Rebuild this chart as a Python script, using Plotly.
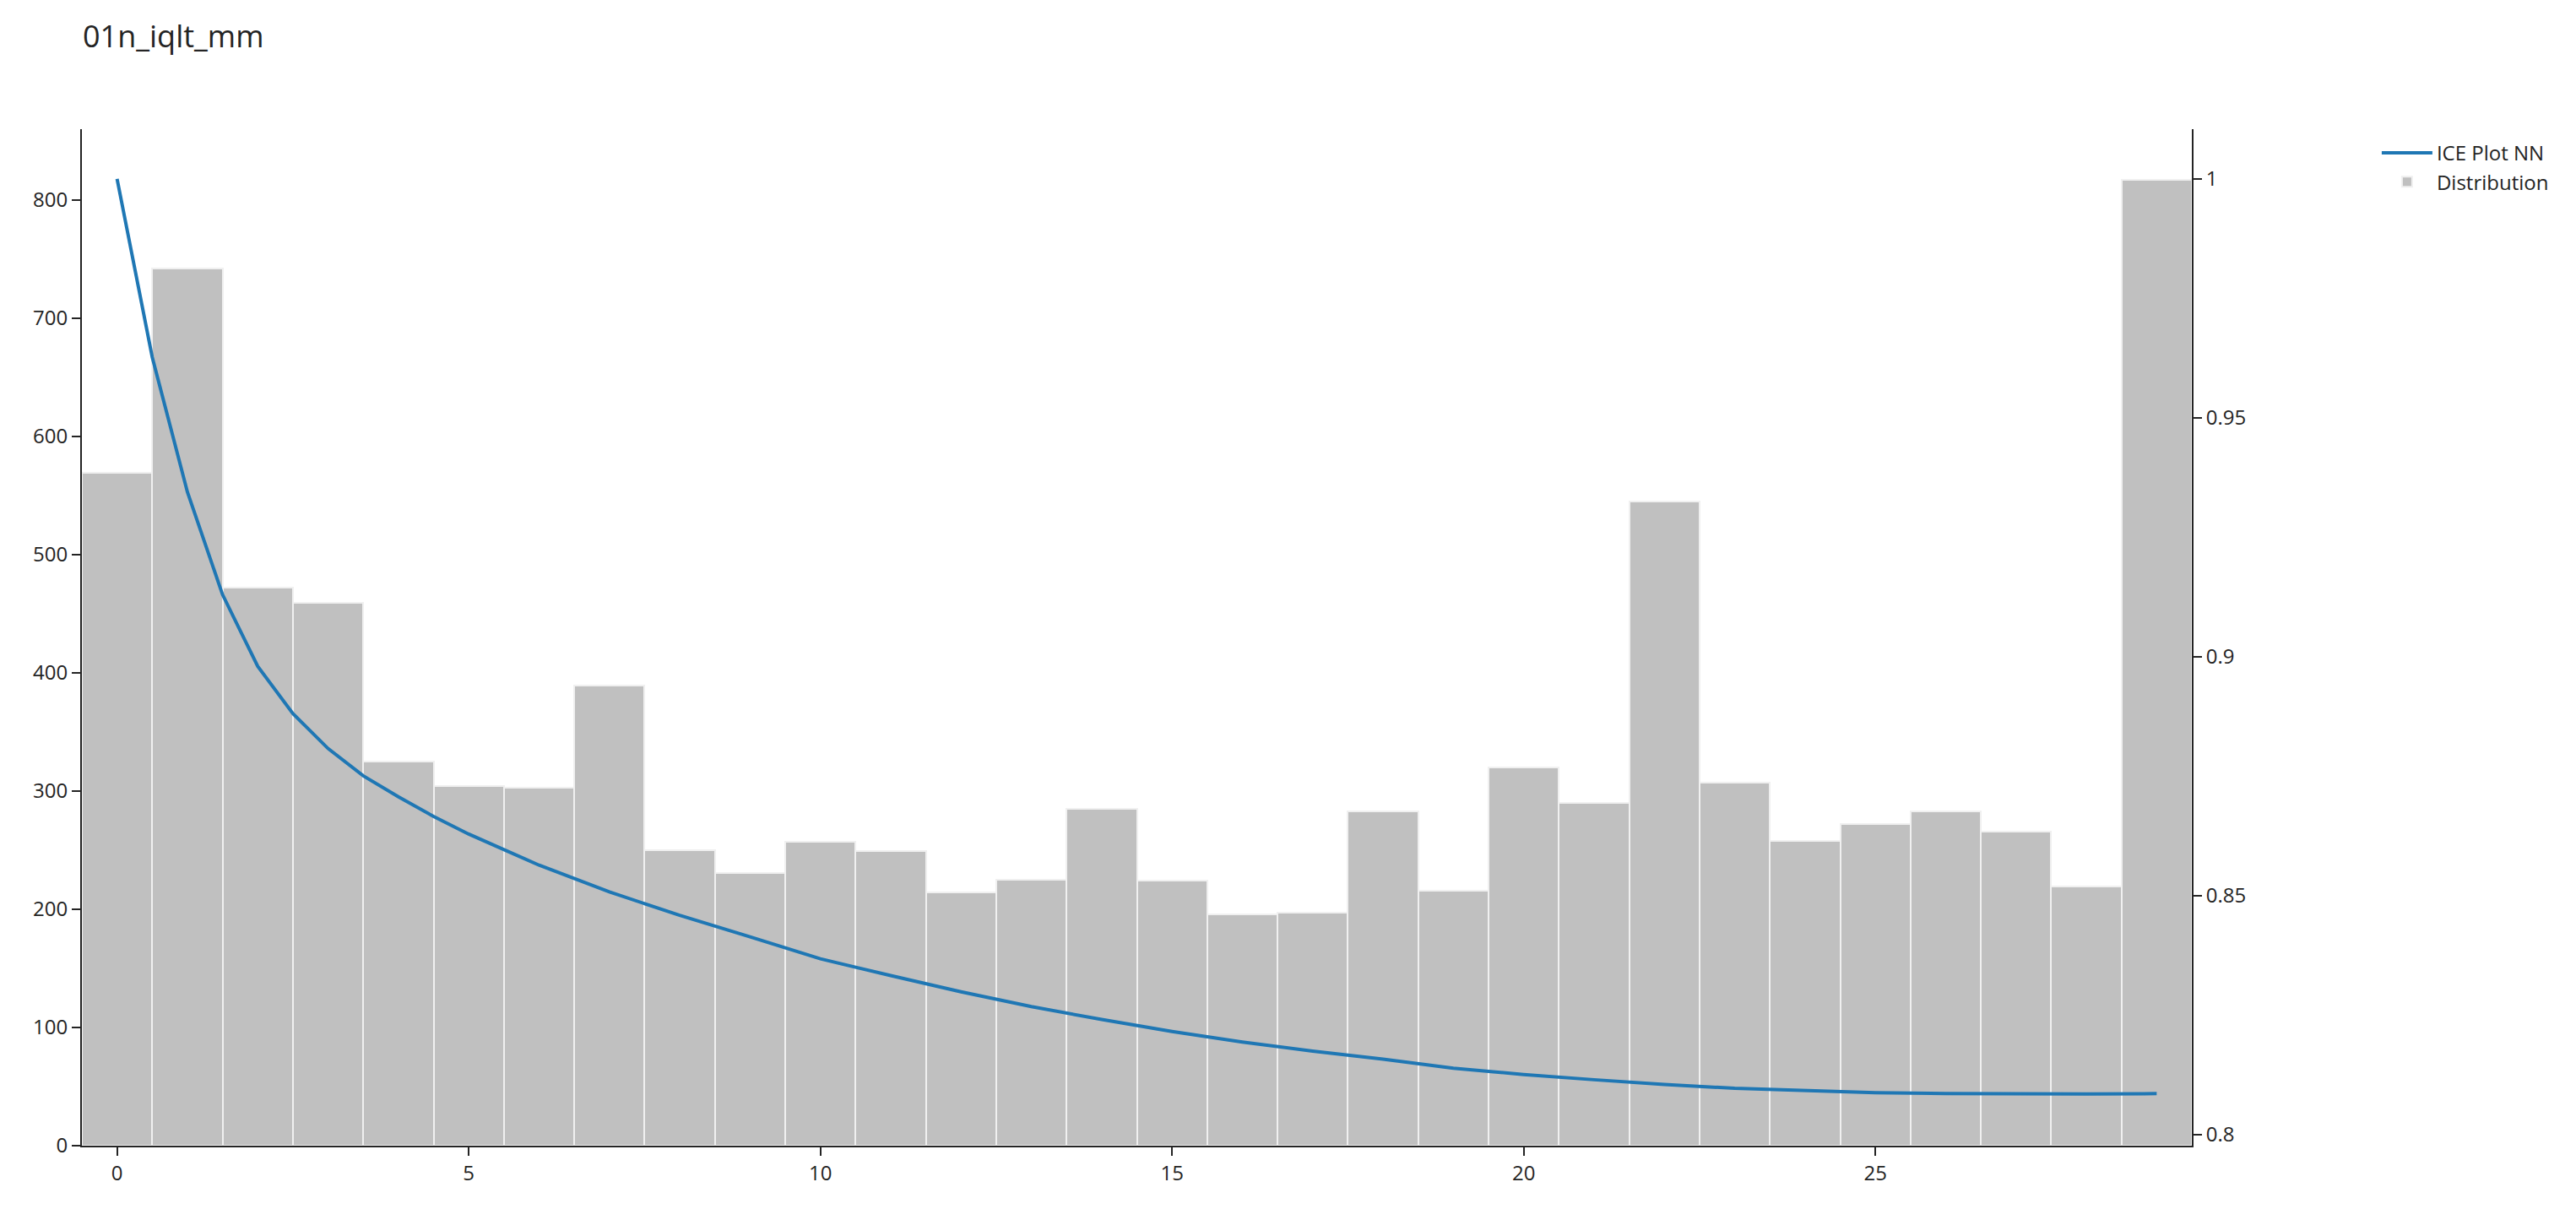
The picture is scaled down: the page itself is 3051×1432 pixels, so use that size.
import plotly.graph_objects as go

# Histogram (distribution) of the feature values
bin_centers = list(range(30))
counts = [569, 742, 472, 459, 325, 304, 303, 389, 250, 231,
          257, 249, 214, 225, 285, 224, 196, 197, 283, 216,
          320, 290, 545, 307, 258, 272, 283, 266, 219, 817]

# ICE curve of the NN model
ice_x = [0, 0.5, 1, 1.5, 2, 2.5, 3, 3.5, 4, 4.5, 5, 6, 7, 8, 9, 10,
         11, 12, 13, 14, 15, 16, 17, 18, 19, 20, 21, 22, 23, 24, 25,
         26, 27, 28, 29]
ice_y = [1.0, 0.9627, 0.9345, 0.9130, 0.8980, 0.8881, 0.8808, 0.8751,
         0.8707, 0.8666, 0.8629, 0.8564, 0.8508, 0.8459, 0.8414, 0.8368,
         0.8333, 0.8299, 0.8268, 0.8241, 0.8216, 0.8194, 0.8175, 0.8158,
         0.8139, 0.8126, 0.8115, 0.8105, 0.8097, 0.8092, 0.8088, 0.8086,
         0.8085, 0.8085, 0.8086]

title_text = "01n_iqlt_mm"
x_ticks = [0, 5, 10, 15, 20, 25]
y_ticks = [0, 100, 200, 300, 400, 500, 600, 700, 800]
y2_ticks = [0.8, 0.85, 0.9, 0.95, 1]

INK = "rgb(36,36,36)"
FONT = '"Open Sans", verdana, arial, sans-serif'

W, H = 3035, 1416

fig = go.Figure()
fig.add_trace(go.Scatter(
    x=ice_x, y=ice_y, mode="lines", name="ICE Plot NN",
    line=dict(color="#1F77B4", width=4), yaxis="y2",
))
fig.add_trace(go.Bar(
    x=bin_centers, y=counts, name="Distribution", width=1,
    marker=dict(color="rgb(192,192,192)",
                line=dict(color="rgb(240,240,240)", width=2)),
    yaxis="y",
))

axis_common = dict(showline=True, linecolor=INK, linewidth=2,
                   ticks="outside", ticklen=10, tickwidth=2, tickcolor=INK,
                   showgrid=False, zeroline=False,
                   tickfont=dict(size=24, color=INK, family=FONT))

fig.update_layout(
    width=W, height=H,
    paper_bgcolor="white", plot_bgcolor="white",
    font=dict(family=FONT, size=24, color=INK),
    title=dict(text=title_text, x=90 / W, xanchor="left", xref="container",
               y=1 - 35 / H, yanchor="middle", yref="container",
               font=dict(size=36, color=INK, family=FONT)),
    margin=dict(l=89, r=447, t=145, b=67, pad=0),
    bargap=0,
    xaxis=dict(range=[-0.5, 29.5], tickvals=x_ticks, **axis_common),
    yaxis=dict(range=[0, 860], tickvals=y_ticks, **axis_common),
    yaxis2=dict(range=[0.7977, 1.0104], tickvals=y2_ticks, overlaying="y",
                side="right", **axis_common),
    legend=dict(x=1.088, xanchor="left", y=0.995, yanchor="top",
                font=dict(size=24, color=INK, family=FONT),
                itemwidth=60, bgcolor="rgba(0,0,0,0)"),
    showlegend=True,
)

fig.write_html("out.html")
